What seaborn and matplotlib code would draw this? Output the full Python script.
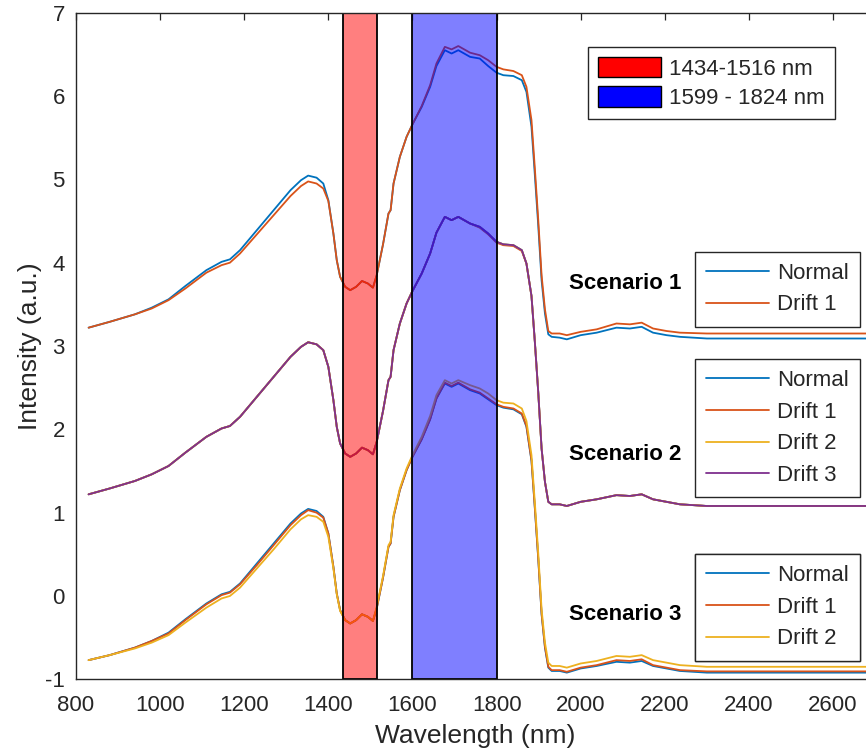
import matplotlib
matplotlib.use("Agg")
import matplotlib.pyplot as plt
import seaborn as sns
import numpy as np
from matplotlib.patches import Patch
from matplotlib.lines import Line2D
from matplotlib.colors import to_rgba

sns.set_theme(style="white")
plt.rcParams["font.family"] = ["Liberation Sans", "DejaVu Sans"]
plt.rcParams["axes.unicode_minus"] = False

# ---------------- data ----------------
wavelength = [830, 880, 940, 980, 1020, 1060, 1110, 1146, 1166, 1190,
              1230, 1270, 1310, 1335, 1352, 1372, 1388, 1400, 1412, 1420,
              1428, 1440, 1452, 1466, 1480, 1494, 1506, 1515, 1530, 1543,
              1548, 1555, 1570, 1586, 1600, 1622, 1642, 1657, 1677, 1693,
              1709, 1737, 1760, 1780, 1800, 1816, 1840, 1860, 1871, 1883,
              1891, 1899, 1907, 1915, 1923, 1931, 1950, 1967, 2000, 2038,
              2085, 2117, 2145, 2172, 2204, 2236, 2300, 2400, 2500, 2600, 2700]

s1_normal = [3.22, 3.29, 3.38, 3.46, 3.56, 3.72, 3.91, 4.01, 4.04, 4.15,
             4.39, 4.63, 4.87, 4.99, 5.045, 5.02, 4.95, 4.75, 4.35, 4.03,
             3.83, 3.71, 3.67, 3.71, 3.78, 3.75, 3.70, 3.85, 4.22, 4.59,
             4.63, 4.95, 5.27, 5.51, 5.66, 5.87, 6.11, 6.36, 6.55, 6.51,
             6.55, 6.47, 6.45, 6.36, 6.28, 6.25, 6.24, 6.19, 6.05, 5.63,
             5.05, 4.45, 3.79, 3.39, 3.14, 3.11, 3.10, 3.08, 3.13, 3.16,
             3.22, 3.21, 3.23, 3.16, 3.13, 3.11, 3.09, 3.09, 3.09, 3.09, 3.09]
s1_drift1 = [3.22, 3.29, 3.38, 3.45, 3.55, 3.69, 3.88, 3.97, 4.00, 4.11,
             4.34, 4.57, 4.80, 4.92, 4.975, 4.95, 4.89, 4.74, 4.35, 4.03,
             3.83, 3.71, 3.67, 3.71, 3.78, 3.75, 3.70, 3.85, 4.22, 4.59,
             4.63, 4.95, 5.27, 5.51, 5.66, 5.88, 6.13, 6.39, 6.59, 6.56,
             6.60, 6.52, 6.49, 6.43, 6.35, 6.32, 6.30, 6.25, 6.11, 5.71,
             5.13, 4.52, 3.85, 3.44, 3.18, 3.15, 3.15, 3.13, 3.17, 3.20,
             3.27, 3.26, 3.28, 3.21, 3.18, 3.16, 3.15, 3.15, 3.15, 3.15, 3.15]

s2_normal = [1.22, 1.29, 1.38, 1.46, 1.56, 1.72, 1.91, 2.01, 2.04, 2.15,
             2.39, 2.63, 2.87, 2.99, 3.045, 3.02, 2.95, 2.75, 2.35, 2.03,
             1.83, 1.71, 1.67, 1.71, 1.78, 1.75, 1.70, 1.85, 2.22, 2.59,
             2.63, 2.95, 3.27, 3.51, 3.66, 3.87, 4.11, 4.36, 4.55, 4.51,
             4.55, 4.47, 4.43, 4.35, 4.25, 4.22, 4.21, 4.15, 3.99, 3.60,
             3.05, 2.45, 1.77, 1.37, 1.13, 1.10, 1.10, 1.08, 1.13, 1.16,
             1.21, 1.20, 1.22, 1.16, 1.13, 1.10, 1.08, 1.08, 1.08, 1.08, 1.08]
s2_drift1 = [1.22, 1.29, 1.38, 1.46, 1.56, 1.72, 1.91, 2.01, 2.04, 2.15,
             2.39, 2.63, 2.87, 2.99, 3.045, 3.02, 2.95, 2.75, 2.35, 2.03,
             1.83, 1.71, 1.67, 1.71, 1.78, 1.75, 1.70, 1.85, 2.22, 2.59,
             2.63, 2.95, 3.27, 3.51, 3.66, 3.87, 4.11, 4.36, 4.55, 4.51,
             4.55, 4.47, 4.42, 4.34, 4.24, 4.21, 4.20, 4.14, 3.99, 3.60,
             3.05, 2.45, 1.77, 1.37, 1.13, 1.10, 1.10, 1.08, 1.13, 1.16,
             1.21, 1.20, 1.22, 1.16, 1.13, 1.10, 1.08, 1.08, 1.08, 1.08, 1.08]
s2_drift2 = [1.22, 1.29, 1.38, 1.46, 1.56, 1.72, 1.91, 2.01, 2.04, 2.15,
             2.39, 2.63, 2.87, 2.99, 3.045, 3.02, 2.95, 2.75, 2.35, 2.03,
             1.83, 1.71, 1.67, 1.71, 1.78, 1.75, 1.70, 1.85, 2.22, 2.59,
             2.63, 2.95, 3.27, 3.51, 3.66, 3.87, 4.11, 4.36, 4.55, 4.51,
             4.55, 4.47, 4.43, 4.35, 4.25, 4.22, 4.21, 4.15, 3.99, 3.60,
             3.05, 2.45, 1.77, 1.37, 1.13, 1.10, 1.10, 1.08, 1.13, 1.16,
             1.21, 1.20, 1.22, 1.16, 1.13, 1.10, 1.08, 1.08, 1.08, 1.08, 1.08]
s2_drift3 = [1.22, 1.29, 1.38, 1.46, 1.56, 1.72, 1.91, 2.01, 2.04, 2.15,
             2.39, 2.63, 2.87, 2.99, 3.045, 3.02, 2.95, 2.75, 2.35, 2.03,
             1.83, 1.71, 1.67, 1.71, 1.78, 1.75, 1.70, 1.85, 2.22, 2.59,
             2.63, 2.95, 3.27, 3.51, 3.66, 3.87, 4.11, 4.36, 4.55, 4.51,
             4.55, 4.47, 4.43, 4.35, 4.25, 4.22, 4.21, 4.15, 3.99, 3.60,
             3.05, 2.45, 1.77, 1.37, 1.13, 1.10, 1.10, 1.08, 1.13, 1.16,
             1.21, 1.20, 1.22, 1.16, 1.13, 1.10, 1.08, 1.08, 1.08, 1.08, 1.08]

s3_normal = [-0.77, -0.71, -0.62, -0.54, -0.44, -0.28, -0.09, 0.02, 0.05, 0.15,
             0.39, 0.63, 0.87, 0.99, 1.045, 1.02, 0.95, 0.75, 0.35, 0.03,
             -0.17, -0.29, -0.33, -0.29, -0.22, -0.25, -0.30, -0.15, 0.22, 0.59,
             0.63, 0.95, 1.27, 1.51, 1.67, 1.88, 2.12, 2.37, 2.55, 2.51,
             2.55, 2.47, 2.43, 2.36, 2.29, 2.26, 2.24, 2.18, 2.03, 1.62,
             1.05, 0.45, -0.22, -0.62, -0.86, -0.90, -0.90, -0.92, -0.87, -0.84,
             -0.79, -0.80, -0.78, -0.84, -0.87, -0.90, -0.92, -0.92, -0.92, -0.92, -0.92]
s3_drift1 = [-0.77, -0.71, -0.62, -0.54, -0.45, -0.29, -0.10, 0.01, 0.04, 0.14,
             0.37, 0.61, 0.85, 0.97, 1.03, 1.00, 0.94, 0.75, 0.35, 0.03,
             -0.17, -0.29, -0.33, -0.29, -0.22, -0.25, -0.30, -0.15, 0.22, 0.59,
             0.63, 0.95, 1.27, 1.51, 1.67, 1.88, 2.12, 2.37, 2.56, 2.52,
             2.56, 2.48, 2.44, 2.37, 2.30, 2.27, 2.25, 2.19, 2.04, 1.63,
             1.06, 0.46, -0.21, -0.61, -0.85, -0.89, -0.89, -0.91, -0.86, -0.83,
             -0.77, -0.78, -0.76, -0.83, -0.86, -0.89, -0.905, -0.905, -0.905, -0.905, -0.905]
s3_drift2 = [-0.77, -0.71, -0.63, -0.56, -0.47, -0.32, -0.14, -0.03, 0.00, 0.10,
             0.33, 0.56, 0.80, 0.92, 0.97, 0.95, 0.89, 0.71, 0.33, 0.02,
             -0.18, -0.29, -0.33, -0.29, -0.22, -0.25, -0.30, -0.13, 0.24, 0.61,
             0.65, 0.97, 1.29, 1.53, 1.69, 1.91, 2.16, 2.41, 2.59, 2.55,
             2.59, 2.53, 2.49, 2.43, 2.35, 2.32, 2.31, 2.25, 2.10, 1.69,
             1.12, 0.52, -0.16, -0.56, -0.80, -0.84, -0.84, -0.86, -0.81, -0.78,
             -0.72, -0.73, -0.71, -0.77, -0.80, -0.83, -0.85, -0.85, -0.85, -0.85, -0.85]

band_labels = ["1434-1516 nm", "1599 - 1824 nm"]
band_start = [1434, 1599]
band_end = [1516, 1800]
band_colors = ["red", "blue"]

scenario_names = ["Scenario 1", "Scenario 2", "Scenario 3"]
series_names = ["Normal", "Drift 1", "Drift 2", "Drift 3"]
series_colors = ["#0072BD", "#D95319", "#EDB120", "#7E2F8E"]

scenarios = [
    [s1_normal, s1_drift1],
    [s2_normal, s2_drift1, s2_drift2, s2_drift3],
    [s3_normal, s3_drift1, s3_drift2],
]

# ---------------- figure ----------------
W, H = 866, 755
fig = plt.figure(figsize=(W / 100, H / 100), dpi=100)
fig.patch.set_facecolor("white")
ax = fig.add_axes([76 / W, 75.7 / H, 799.1 / W, 666.6 / H])
ax.set_facecolor("white")

LW = 1.3
for series in scenarios:
    for vals, col in zip(series, series_colors):
        sns.lineplot(x=wavelength, y=vals, color=col, lw=LW, ax=ax,
                     estimator=None, sort=False, legend=False, zorder=2)

for lo, hi, col in zip(band_start, band_end, band_colors):
    ax.axvspan(lo, hi, facecolor=to_rgba(col, 0.5), edgecolor="black",
               lw=1.3, zorder=3)

ax.set_xlim(800, 2700)
ax.set_ylim(-1, 7)
ax.set_xticks(list(range(800, 2700, 200)))
ax.set_yticks(list(range(-1, 8)))

dark = "#262626"
for sp in ax.spines.values():
    sp.set_color(dark)
    sp.set_linewidth(1.0)
    sp.set_zorder(5)
ax.tick_params(direction="in", length=5, width=0.9, top=True, right=True,
               labelsize=16, colors=dark)
ax.tick_params(axis="x", pad=11)
ax.tick_params(axis="y", pad=8)
ax.set_xlabel("Wavelength (nm)", fontsize=19, color=dark, labelpad=6)
ax.set_ylabel("Intensity (a.u.)", fontsize=19, color=dark, labelpad=2)

# band legend
band_handles = [Patch(facecolor=c, edgecolor="black", lw=1.0) for c in band_colors]
leg0 = ax.legend(band_handles, band_labels, loc="upper left",
                 bbox_to_anchor=(588 / W, 1 - 47 / H), bbox_transform=fig.transFigure,
                 borderaxespad=0, fontsize=16, handlelength=2.85, handleheight=1.04,
                 handletextpad=0.35, borderpad=0.45, labelspacing=0.3,
                 frameon=True, fancybox=False, framealpha=1, edgecolor=dark)
leg0.get_frame().set_linewidth(1.0)
leg0.set_zorder(10)
ax.add_artist(leg0)

legend_tops = [251.7, 359, 554]
text_y = [283, 455, 614]
for i, series in enumerate(scenarios):
    n = len(series)
    handles = [Line2D([], [], color=series_colors[k], lw=LW) for k in range(n)]
    lg = ax.legend(handles, series_names[:n], loc="upper left",
                   bbox_to_anchor=(695 / W, 1 - legend_tops[i] / H),
                   bbox_transform=fig.transFigure, borderaxespad=0, fontsize=16,
                   handlelength=2.85, handletextpad=0.35, borderpad=0.5,
                   labelspacing=0.48, frameon=True, fancybox=False, framealpha=1,
                   edgecolor=dark)
    lg.get_frame().set_linewidth(1.0)
    lg.set_zorder(10)
    ax.add_artist(lg)
    fig.text(569 / W, 1 - text_y[i] / H, scenario_names[i], fontsize=16,
             fontweight="bold", ha="left", va="center", color="black")

fig.savefig("out.png", dpi=100, facecolor="white")
